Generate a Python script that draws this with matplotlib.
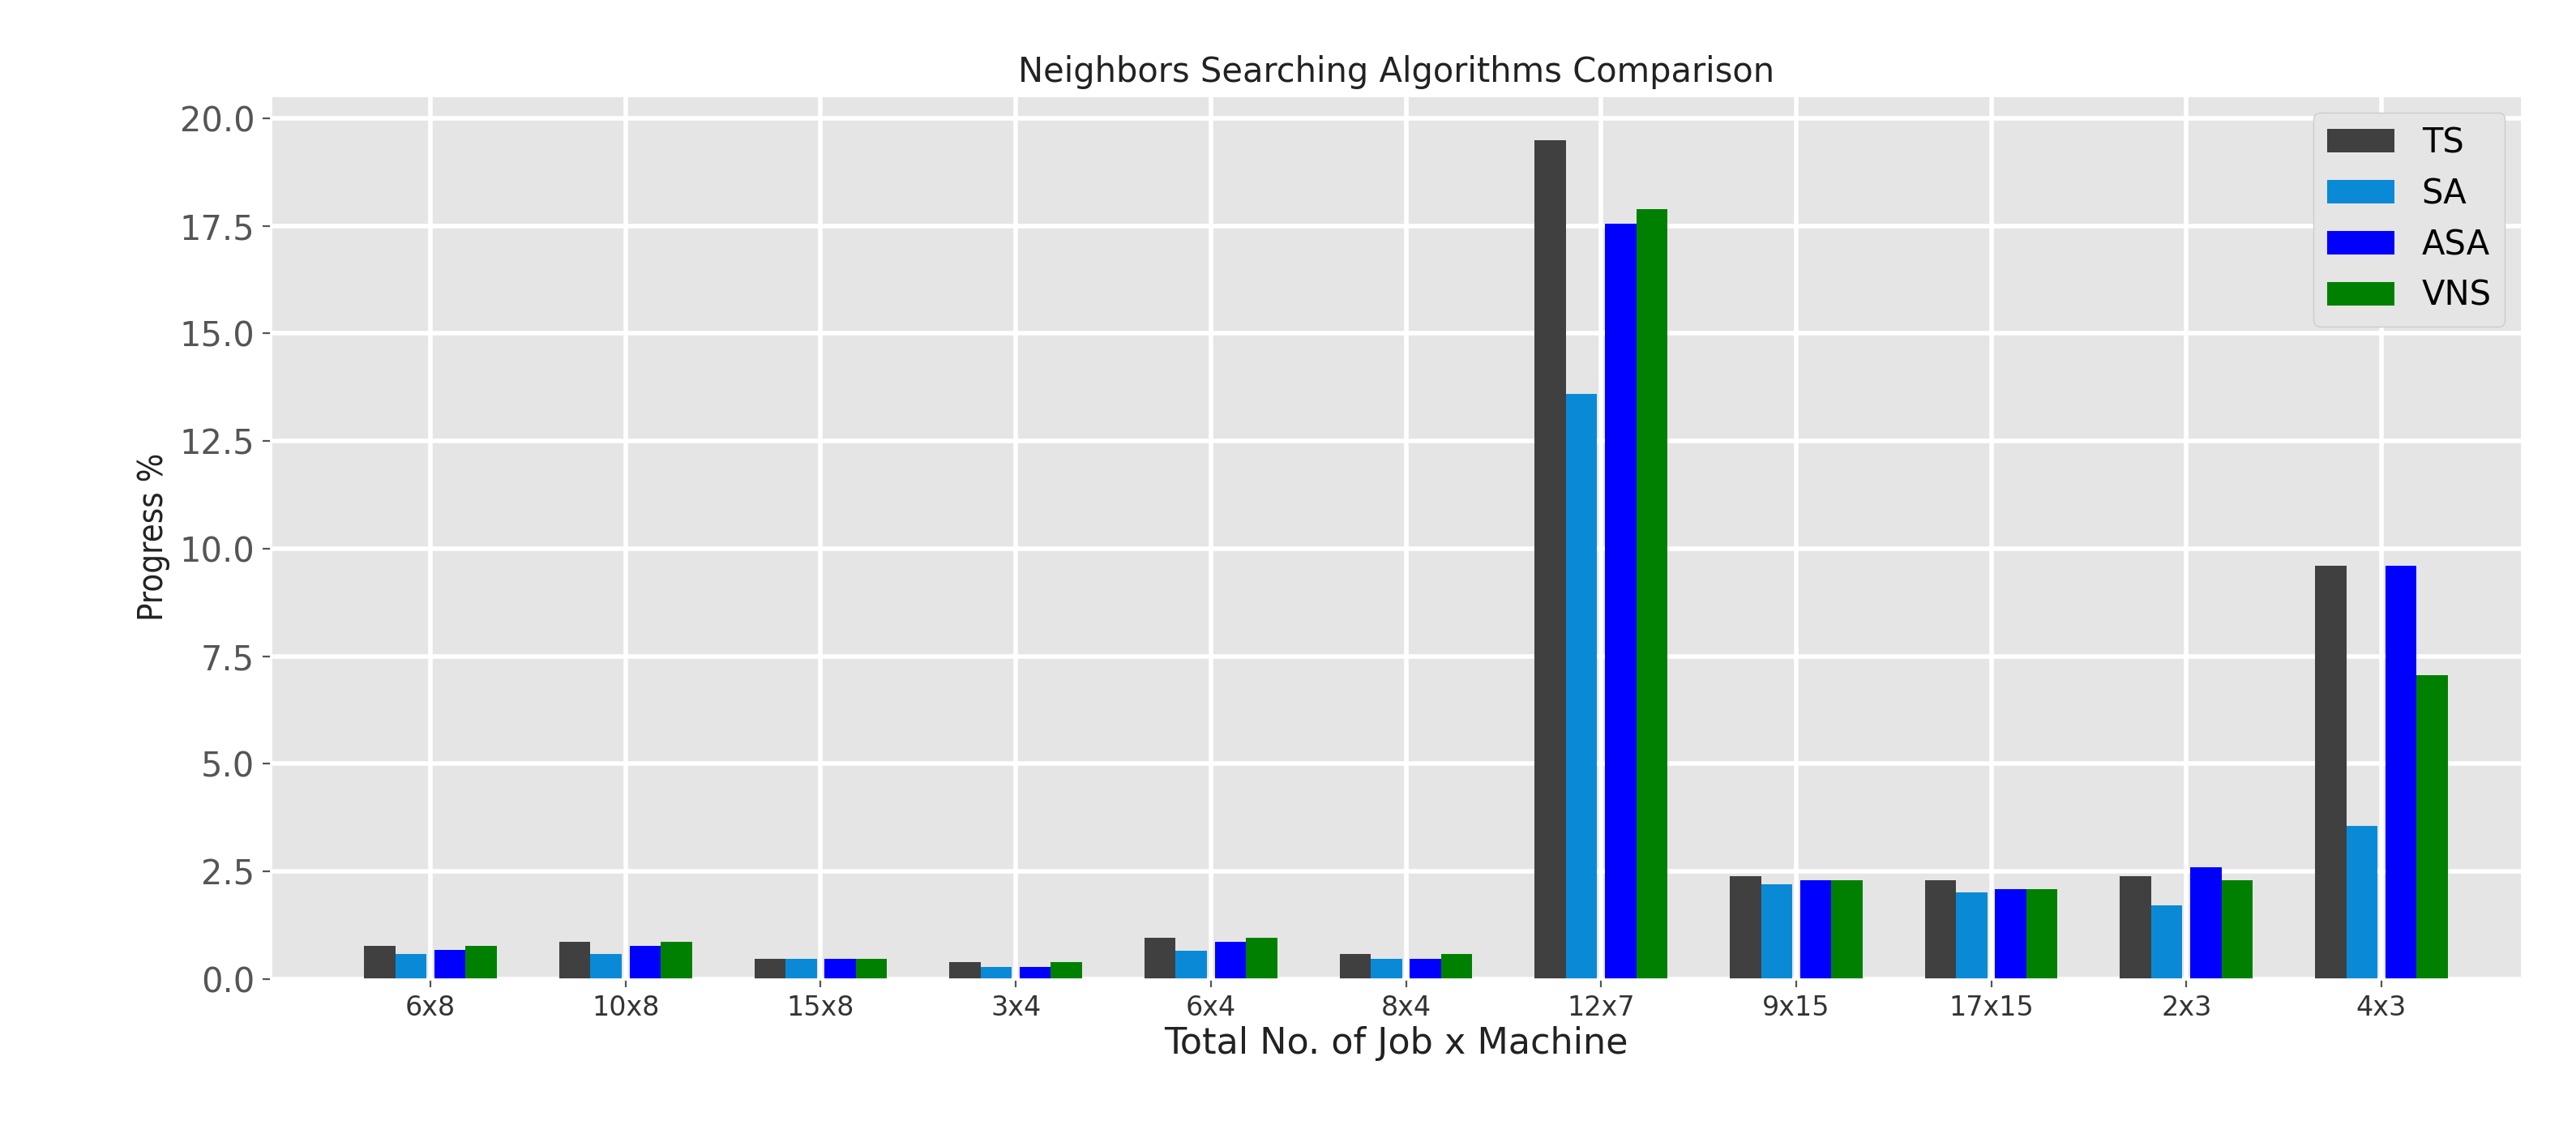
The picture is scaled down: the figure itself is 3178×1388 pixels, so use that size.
import matplotlib
matplotlib.use("Agg")
import matplotlib.pyplot as plt
import numpy as np

plt.style.use("ggplot")

categories = ["6x8", "10x8", "15x8", "3x4", "6x4", "8x4", "12x7", "9x15", "17x15", "2x3", "4x3"]
ts  = [0.76, 0.85, 0.47, 0.38, 0.95, 0.57, 19.5, 2.38, 2.29, 2.38, 9.6]
sa  = [0.58, 0.58, 0.47, 0.27, 0.66, 0.47, 13.6, 2.19, 2.00, 1.71, 3.55]
asa = [0.67, 0.76, 0.47, 0.27, 0.85, 0.47, 17.55, 2.29, 2.09, 2.59, 9.6]
vns = [0.76, 0.85, 0.47, 0.38, 0.95, 0.57, 17.9, 2.29, 2.09, 2.29, 7.05]

fig = plt.figure(figsize=(15.89, 6.94), dpi=200)
ax = fig.add_axes([0.105, 0.130, 0.874, 0.785])
ax.grid(True, color="white", linewidth=2)
x = np.arange(len(categories))
w = 0.16
ax.bar(x - 0.26, ts, w, color="#404040", label="TS")
ax.bar(x - 0.10, sa, w, color="#0a8ad6", label="SA")
ax.bar(x + 0.10, asa, w, color="#0000ff", label="ASA")
ax.bar(x + 0.26, vns, w, color="#008000", label="VNS")

ax.set_xticks(x)
ax.set_xticklabels(categories, fontsize=12, color="#333333")
ax.tick_params(axis="y", labelsize=15, colors="#555555")
ax.set_xlim(-0.82, 10.72)
ax.set_ylim(0, 20.53)
ax.set_yticks(np.arange(0, 20.1, 2.5))
ax.set_title("Neighbors Searching Algorithms Comparison", fontsize=15, color="#222222")
ax.set_xlabel("Total No. of Job x Machine", fontsize=16, color="#222222", labelpad=2)
ax.set_ylabel("Progress %", fontsize=15, color="#222222", fontstretch="condensed")
ax.legend(loc="upper right", fontsize=15, facecolor="#e5e5e5", framealpha=1)
fig.savefig("out.png", dpi=200)
